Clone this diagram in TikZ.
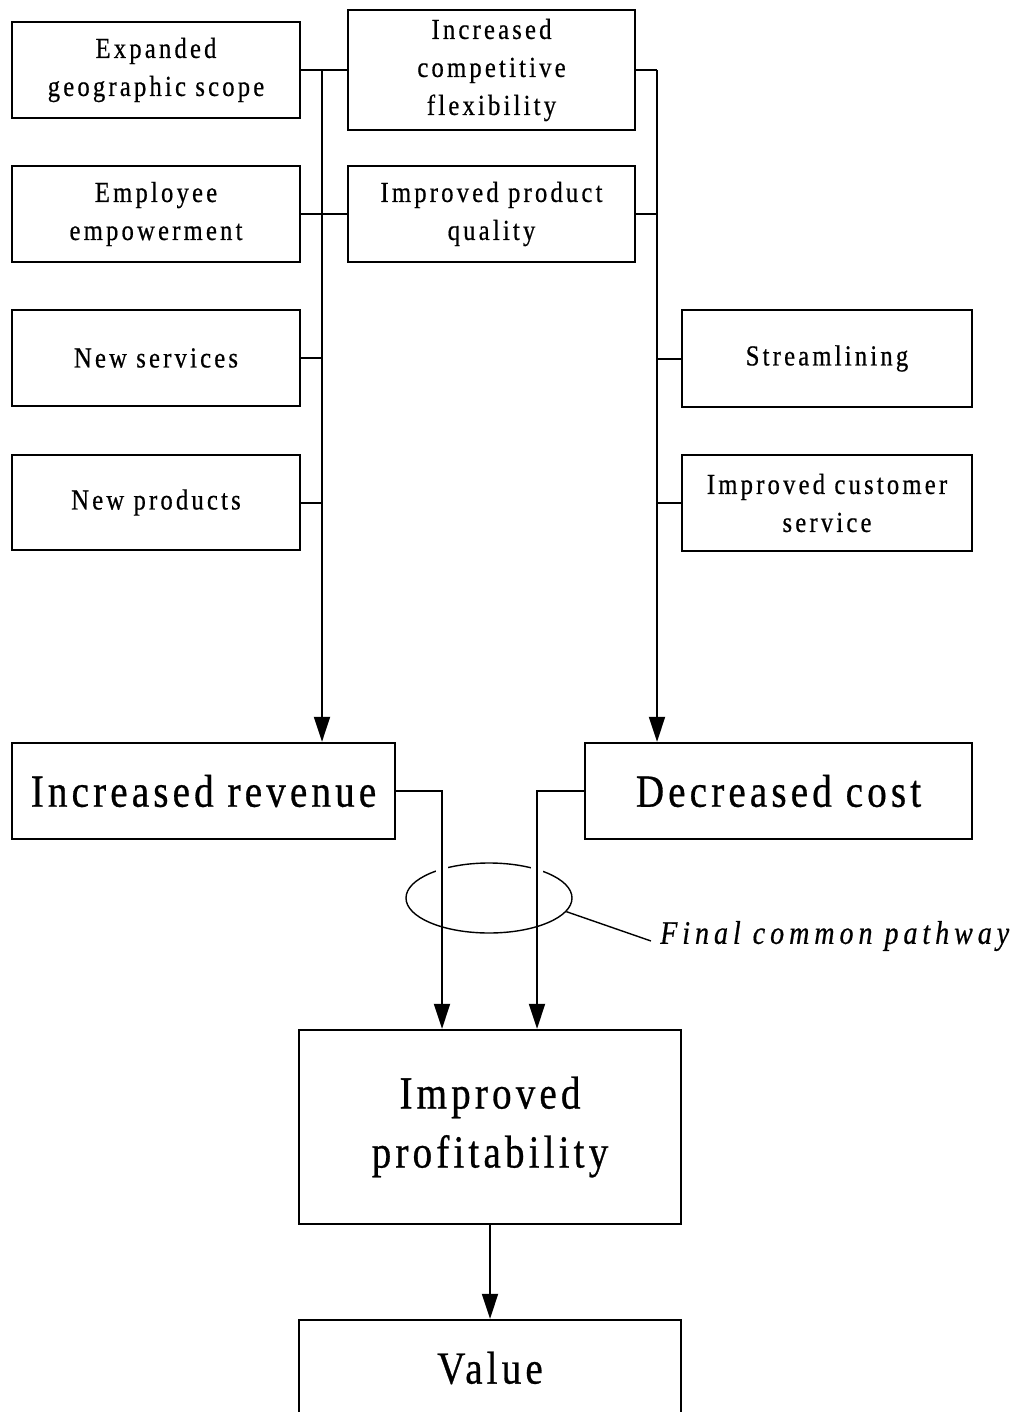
\documentclass[tikz,border=0pt]{standalone}
\usepackage{fontspec}
\setmainfont{Liberation Serif}
\newfontfamily\boxface[FakeStretch=0.85,LetterSpace=11,FakeBold=0.6]{Liberation Serif}
\newfontfamily\bigface[FakeStretch=0.85,LetterSpace=9,FakeBold=0.6]{Liberation Serif}
\newfontfamily\noteface[FakeStretch=0.85,LetterSpace=15,FakeBold=0.5]{Liberation Serif Italic}
\newcommand\smallboxfont{\boxface\fontsize{29}{38}\selectfont}
\newcommand\bigboxfont{\bigface\fontsize{46}{59}\selectfont}
\newcommand\notefont{\noteface\fontsize{33}{38}\selectfont}
\usetikzlibrary{arrows.meta,shapes.geometric}

\begin{document}
\begin{tikzpicture}[x=1pt,y=-1pt,
  box/.style={draw, line width=2.3pt, inner sep=0pt, align=center, font=\smallboxfont},
  bigbox/.style={box, font=\bigboxfont},
  link/.style={line width=2pt},
  flow/.style={link, -{Triangle[length=25pt,width=16pt]}},
  ring/.style={draw, ellipse, line width=1.4pt, inner sep=0pt}]

\useasboundingbox (0,0) rectangle (1026,1412);

% factor boxes, left column
\node[box, minimum width=288, minimum height=96] (exp) at (156,70) {Expanded\\geographic scope};
\node[box, minimum width=288, minimum height=96] (emp) at (156,214) {Employee\\empowerment};
\node[box, minimum width=288, minimum height=96] (nsv) at (156,358) {New services};
\node[box, minimum width=288, minimum height=95] (npr) at (156,502.5) {New products};

% factor boxes, middle column
\node[box, minimum width=287, minimum height=120] (icf) at (491.5,70) {Increased\\competitive\\flexibility};
\node[box, minimum width=287, minimum height=96] (ipq) at (491.5,214) {Improved product\\quality};

% factor boxes, right column
\node[box, minimum width=290, minimum height=97] (str) at (827,358.5) {Streamlining};
\node[box, minimum width=290, minimum height=96] (ics) at (827,503) {Improved customer\\service};

% outcome boxes
\node[bigbox, minimum width=383, minimum height=96] (rev) at (203.5,791) {Increased revenue};
\node[bigbox, minimum width=387, minimum height=96] (cost) at (778.5,791) {Decreased cost};
\node[bigbox, minimum width=382, minimum height=194] (prof) at (490,1127) {Improved\\profitability};
\node[bigbox, minimum width=382, minimum height=96] (val) at (490,1368) {Value};

% final common pathway marker
\node[ring, minimum width=166, minimum height=70] (fcp) at (489,898) {};
\node[anchor=west, inner sep=0pt, font=\notefont] (lbl) at (660,936) {Final common pathway};
\draw[line width=1.4pt] (fcp.-10) -- ([xshift=-9pt,yshift=-5pt]lbl.west);
\fill[white] (436,856) rectangle (448,874);
\fill[white] (531,856) rectangle (543,874);

% trunk lines
\coordinate (lt) at (322,70);
\coordinate (rt) at (657,70);

\draw[link] (exp.east) -- (icf.west);
\draw[link] (emp.east) -- (ipq.west);
\draw[link] (nsv.east) -- (nsv.east -| lt);
\draw[link] (npr.east) -- (npr.east -| lt);
\draw[flow] (lt) -- (lt |- rev.north);

\draw[link] (icf.east) -- (rt);
\draw[link] (ipq.east) -- (ipq.east -| rt);
\draw[link] (str.west) -- (str.west -| rt);
\draw[link] (ics.west) -- (ics.west -| rt);
\draw[flow] (rt) -- (rt |- cost.north);

% outcomes into profitability
\draw[flow] (rev.east) -| ([xshift=-48pt]prof.north);
\draw[flow] (cost.west) -| ([xshift=47pt]prof.north);
\draw[flow] (prof) -- (val);
\end{tikzpicture}
\end{document}
